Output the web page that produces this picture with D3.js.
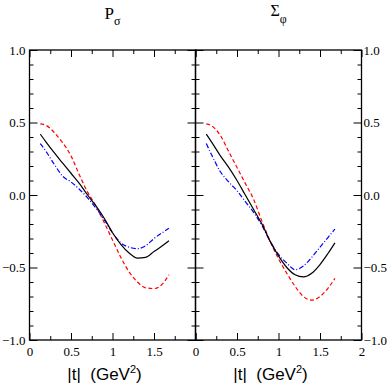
<!DOCTYPE html>
<html>
<head>
<meta charset="utf-8">
<script src="https://cdn.jsdelivr.net/npm/d3@7"></script>
<style>
  html, body { margin: 0; padding: 0; background: #fff; }
  svg { display: block; }
</style>
</head>
<body>
<svg id="chart" width="391" height="385"></svg>
<script>
// |t| values (GeV^2) where the curves are sampled
const tValues = [0.13, 0.2, 0.3, 0.4, 0.5, 0.6, 0.7, 0.8, 0.9, 1.0, 1.1, 1.2, 1.3, 1.4, 1.5, 1.6, 1.68];

// P_sigma panel
const pSigmaSolid   = [0.42, 0.365, 0.29, 0.22, 0.15, 0.08, 0.00, -0.075, -0.16, -0.26, -0.34, -0.40, -0.435, -0.43, -0.39, -0.35, -0.315];
const pSigmaDashed  = [0.49, 0.48, 0.43, 0.36, 0.27, 0.14, 0.02, -0.075, -0.19, -0.31, -0.43, -0.53, -0.60, -0.64, -0.645, -0.615, -0.55];
const pSigmaDashDot = [0.355, 0.30, 0.21, 0.13, 0.09, 0.04, -0.02, -0.09, -0.17, -0.26, -0.33, -0.36, -0.37, -0.35, -0.30, -0.26, -0.23];

// Sigma_phi panel
const sigmaPhiSolid   = [0.42, 0.36, 0.27, 0.19, 0.10, 0.00, -0.10, -0.20, -0.32, -0.42, -0.50, -0.55, -0.565, -0.54, -0.48, -0.40, -0.33];
const sigmaPhiDashed  = [0.49, 0.475, 0.41, 0.30, 0.19, 0.08, -0.03, -0.18, -0.32, -0.44, -0.54, -0.63, -0.70, -0.725, -0.70, -0.64, -0.575];
const sigmaPhiDashDot = [0.355, 0.27, 0.16, 0.09, 0.03, -0.045, -0.12, -0.21, -0.32, -0.41, -0.47, -0.515, -0.49, -0.43, -0.36, -0.29, -0.235];

// axis ticks
const xMajorLeft = [0, 0.5, 1, 1.5, 2];
const xMajorRight = [0, 0.5, 1, 1.5, 2];
const xMinor = [0.25, 0.75, 1.25, 1.75];
const yMajor = [-1, -0.5, 0, 0.5, 1];
const yMinor = [-0.9, -0.8, -0.7, -0.6, -0.4, -0.3, -0.2, -0.1, 0.1, 0.2, 0.3, 0.4, 0.6, 0.7, 0.8, 0.9];

const svg = d3.select("#chart");
const serif = "'Liberation Serif', 'Times New Roman', serif";

const plotTop = 50, plotBottom = 340;
const panels = [
  { left: 29.5, right: 195.5, solid: pSigmaSolid, dashed: pSigmaDashed, dashDot: pSigmaDashDot,
    xTicks: xMajorLeft, labelY: "left", title: ["P", "σ"] },
  { left: 195.5, right: 361.5, solid: sigmaPhiSolid, dashed: sigmaPhiDashed, dashDot: sigmaPhiDashDot,
    xTicks: xMajorRight, labelY: "right", title: ["Σ", "φ"] }
];

const y = d3.scaleLinear().domain([-1, 1]).range([plotBottom, plotTop]);
const yFmt = d3.format(".1f");

panels.forEach((p, i) => {
  const x = d3.scaleLinear().domain([0, 2]).range([p.left, p.right]);
  const g = svg.append("g");

  // x axes (ticks point inward)
  g.append("g").attr("transform", `translate(0,${plotBottom})`)
    .call(d3.axisBottom(x).tickValues(p.xTicks).tickSize(-7).tickSizeOuter(0).tickPadding(7)
      .tickFormat(d => (i === 0 && d === 2) ? "" : d3.format("")(d)));
  g.append("g").attr("transform", `translate(0,${plotBottom})`)
    .call(d3.axisBottom(x).tickValues(xMinor).tickSize(-4).tickSizeOuter(0).tickFormat(""));
  g.append("g").attr("transform", `translate(0,${plotTop})`)
    .call(d3.axisTop(x).tickValues(p.xTicks).tickSize(-7).tickSizeOuter(0).tickFormat(""));
  g.append("g").attr("transform", `translate(0,${plotTop})`)
    .call(d3.axisTop(x).tickValues(xMinor).tickSize(-4).tickSizeOuter(0).tickFormat(""));

  // y axes
  const leftAx = d3.axisLeft(y).tickValues(yMajor).tickSize(-8).tickSizeOuter(0)
    .tickPadding(4).tickFormat(p.labelY === "left" ? yFmt : "");
  const rightAx = d3.axisRight(y).tickValues(yMajor).tickSize(-8).tickSizeOuter(0)
    .tickPadding(2).tickFormat(p.labelY === "right" ? yFmt : "");
  g.append("g").attr("transform", `translate(${p.left},0)`).call(leftAx);
  g.append("g").attr("transform", `translate(${p.left},0)`)
    .call(d3.axisLeft(y).tickValues(yMinor).tickSize(-4).tickSizeOuter(0).tickFormat(""));
  g.append("g").attr("transform", `translate(${p.right},0)`).call(rightAx);
  g.append("g").attr("transform", `translate(${p.right},0)`)
    .call(d3.axisRight(y).tickValues(yMinor).tickSize(-4).tickSizeOuter(0).tickFormat(""));

  g.selectAll(".domain").remove();
  g.selectAll(".tick line").attr("stroke", "#000").attr("stroke-width", 1);
  g.selectAll(".tick text")
    .attr("font-family", serif)
    .attr("font-size", 13)
    .style("font-family", serif)
    .style("font-size", "13px")
    .attr("fill", "#000");

  // frame
  g.append("rect")
    .attr("x", p.left).attr("y", plotTop)
    .attr("width", p.right - p.left).attr("height", plotBottom - plotTop)
    .attr("fill", "none").attr("stroke", "#000").attr("stroke-width", 1.3);

  // curves
  const line = d3.line()
    .x((d, k) => x(tValues[k]))
    .y(d => y(d))
    .curve(d3.curveMonotoneX);

  const curves = [
    { data: p.dashed, color: "#ff0000", dash: "4,2.5" },
    { data: p.dashDot, color: "#0000ff", dash: "5,2,1,2" },
    { data: p.solid, color: "#000000", dash: null }
  ];
  g.selectAll("path.curve")
    .data(curves)
    .enter()
    .append("path")
    .attr("class", "curve")
    .attr("d", d => line(d.data))
    .attr("fill", "none")
    .attr("stroke", d => d.color)
    .attr("stroke-width", 1.2)
    .attr("stroke-dasharray", d => d.dash);

  // panel title
  const cx = (p.left + p.right) / 2;
  const title = g.append("text")
    .attr("x", cx).attr("y", i === 0 ? 18.5 : 15.5)
    .attr("text-anchor", "middle")
    .style("font-family", serif)
    .style("font-size", i === 0 ? "17px" : "16px");
  title.append("tspan").text(p.title[0]);
  title.append("tspan").attr("dy", i === 0 ? 6.5 : 7.5).style("font-size", "12px").text(p.title[1]);

  // x axis title
  const xt = g.append("text")
    .attr("x", cx - 8).attr("y", 380)
    .attr("text-anchor", "middle")
    .style("font-family", "'Liberation Sans', Arial, sans-serif")
    .style("font-size", "17px");
  xt.append("tspan").text("|t|\u00a0\u00a0(GeV");
  xt.append("tspan").attr("dy", -7).style("font-size", "11px").text("2");
  xt.append("tspan").attr("dy", 7).text(")");
});
</script>
</body>
</html>
